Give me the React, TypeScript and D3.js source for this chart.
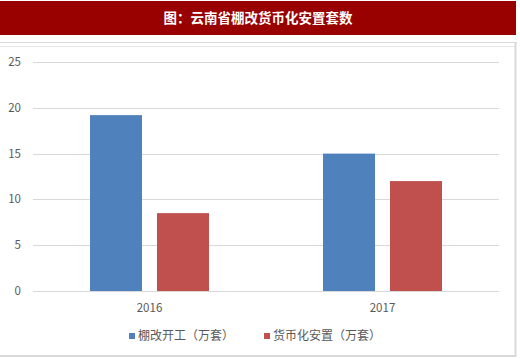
import React from "react";
import * as d3 from "d3";

const categories = ["2016", "2017"];
const seriesNames = ["棚改开工（万套）", "货币化安置（万套）"];
const seriesA = [19.2, 15.0];
const seriesB = [8.5, 12.0];
const yTicks = [0, 5, 10, 15, 20, 25];
const title = "图：云南省棚改货币化安置套数";
const colors = ["#4f81bd", "#c0504d"];

export default function App() {
  const W = 520, H = 358;
  const left = 33, right = 499, top = 62, bottom = 291;
  const x = d3.scaleBand<string>().domain(categories).range([left, right]).padding(0);
  const y = d3.scaleLinear().domain([0, 25]).range([bottom, top]);
  const bw = 52, gap = 15;
  const series = [seriesA, seriesB];
  const font = "'Noto Sans CJK SC', 'Noto Sans', sans-serif";
  return (
    <svg width={W} height={H} style={{ position: "absolute", left: 0, top: 0 }}>
      <rect x={0} y={0} width={W} height={H} fill="#fff" />
      <rect x={0} y={1} width={516} height={34} fill="#990000" />
      <text x={258} y={23} textAnchor="middle" fill="#fff" fontSize={13.5} fontWeight="bold" fontFamily={font}>{title}</text>
      <line x1={0} x2={517} y1={42.5} y2={42.5} stroke="#d9d9d9" strokeWidth={1} />
      <line x1={0} x2={515} y1={46.5} y2={46.5} stroke="#e6e6e6" strokeWidth={1} />
      <line x1={515.5} x2={515.5} y1={43} y2={357} stroke="#d9d9d9" strokeWidth={2} />
      <line x1={0} x2={516} y1={356} y2={356} stroke="#d9d9d9" strokeWidth={2} />
      {yTicks.map((t) => (
        <g key={t}>
          <line x1={left} x2={right} y1={Math.round(y(t)) + 0.5} y2={Math.round(y(t)) + 0.5} stroke="#d9d9d9" strokeWidth={1} />
          <text x={21} y={y(t) + 4} textAnchor="end" fill="#595959" fontSize={11.5} fontFamily={font}>{t}</text>
        </g>
      ))}
      {categories.map((c, i) => {
        const cx = (x(c) as number) + x.bandwidth() / 2;
        return (
          <g key={c}>
            {series.map((s, j) => {
              const bx = j === 0 ? cx - gap / 2 - bw : cx + gap / 2;
              return (
                <rect key={j} x={bx} y={y(s[i])} width={bw} height={y(0) - y(s[i])} fill={colors[j]} />
              );
            })}
            <text x={cx} y={312} textAnchor="middle" fill="#595959" fontSize={11.5} fontFamily={font}>{c}</text>
          </g>
        );
      })}
      {seriesNames.map((n, j) => {
        const lx = j === 0 ? 129 : 264;
        return (
          <g key={n}>
            <rect x={lx} y={333} width={6} height={6} fill={colors[j]} />
            <text x={lx + 9} y={340} fill="#595959" fontSize={12} fontFamily={font}>{n}</text>
          </g>
        );
      })}
    </svg>
  );
}
